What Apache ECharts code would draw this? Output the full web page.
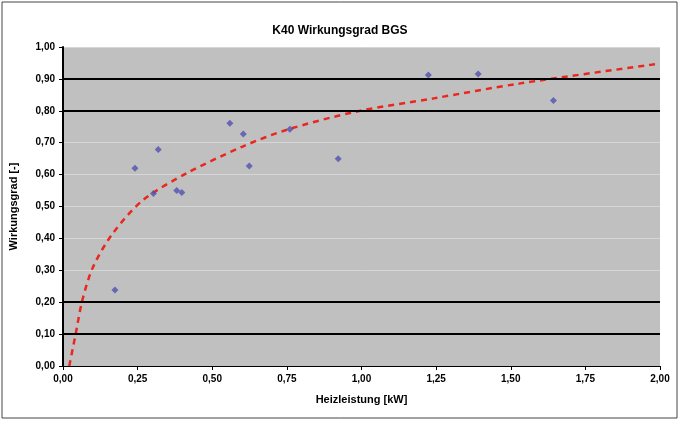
<!DOCTYPE html>
<html>
<head>
<meta charset="utf-8">
<style>
  html, body { margin: 0; padding: 0; background: #fff; }
  #chart { width: 680px; height: 421px; }
</style>
<script src="https://cdn.jsdelivr.net/npm/echarts@6/dist/echarts.min.js"></script>
</head>
<body>
<div id="chart"></div>
<script>
// Messpunkte
var pointX = [0.174, 0.241, 0.303, 0.319, 0.381, 0.398, 0.559, 0.604, 0.624, 0.760, 0.922, 1.224, 1.391, 1.643];
var pointY = [0.238, 0.620, 0.541, 0.679, 0.550, 0.544, 0.761, 0.727, 0.627, 0.742, 0.650, 0.912, 0.915, 0.832];

// Trendlinie
var trendX = [0.021, 0.043, 0.065, 0.101, 0.167, 0.268, 0.414, 0.602, 0.748, 0.980, 1.242, 1.532, 1.968, 2.000];
var trendY = [0.000, 0.103, 0.207, 0.311, 0.416, 0.520, 0.604, 0.688, 0.740, 0.797, 0.839, 0.886, 0.944, 0.948];

// schwarze Linien
var refLevels = [0.1, 0.2, 0.8, 0.9];

// Achsen
var xMin = 0, xMax = 2, xStep = 0.25;
var yMin = 0, yMax = 1, yStep = 0.1;

function fmt(v) {
    return v.toFixed(2).replace('.', ',');
}

var pts = pointX.map(function (x, i) { return [x, pointY[i]]; });
var trend = trendX.map(function (x, i) { return [x, trendY[i]]; });

var myChart = echarts.init(document.getElementById('chart'));
var option = {
    backgroundColor: '#fff',
    animation: false,
    title: {
        text: 'K40 Wirkungsgrad BGS',
        left: 'center',
        top: 20,
        textStyle: { fontFamily: 'Liberation Sans', fontSize: 12, fontWeight: 'bold', color: '#000' }
    },
    graphic: [{
        type: 'rect',
        shape: { x: 2, y: 2, width: 675, height: 416 },
        style: { fill: 'none', stroke: '#444', lineWidth: 1 },
        silent: true
    }],
    grid: {
        left: 63, right: 20, top: 47, bottom: 55,
        show: true,
        backgroundColor: '#c0c0c0',
        borderWidth: 0
    },
    xAxis: {
        type: 'value',
        min: xMin, max: xMax, interval: xStep,
        name: 'Heizleistung [kW]',
        nameLocation: 'middle',
        nameGap: 28,
        nameTextStyle: { fontFamily: 'Liberation Sans', fontSize: 11, fontWeight: 'bold', color: '#000' },
        axisLine: { lineStyle: { color: '#000', width: 1 } },
        axisTick: { show: true, length: 4, lineStyle: { color: '#000' } },
        axisLabel: { formatter: fmt, fontFamily: 'Liberation Sans', fontSize: 10, fontWeight: 'bold', color: '#000', margin: 8 },
        splitLine: { show: false }
    },
    yAxis: {
        type: 'value',
        min: yMin, max: yMax, interval: yStep,
        name: 'Wirkungsgrad [-]',
        nameLocation: 'middle',
        nameGap: 44,
        nameTextStyle: { fontFamily: 'Liberation Sans', fontSize: 11, fontWeight: 'bold', color: '#000' },
        axisLine: { show: true, lineStyle: { color: '#000', width: 2 } },
        axisTick: { show: true, length: 4, lineStyle: { color: '#000' } },
        axisLabel: { formatter: fmt, fontFamily: 'Liberation Sans', fontSize: 10, fontWeight: 'bold', color: '#000', margin: 8 },
        splitLine: { show: true, lineStyle: { color: '#d6d6d6', width: 1 } }
    },
    series: [
        {
            type: 'line',
            data: trend,
            smooth: 0.3,
            showSymbol: false,
            lineStyle: { color: '#e8281e', width: 2.5, type: [6, 5] },
            markLine: {
                silent: true,
                symbol: 'none',
                label: { show: false },
                lineStyle: { color: '#000', width: 2, type: 'solid' },
                data: refLevels.map(function (v) { return { yAxis: v }; })
            },
            z: 3
        },
        {
            type: 'scatter',
            data: pts,
            symbol: 'diamond',
            symbolSize: 7,
            itemStyle: { color: '#5050b0' },
            z: 4
        }
    ]
};
myChart.setOption(option);
</script>
</body>
</html>
